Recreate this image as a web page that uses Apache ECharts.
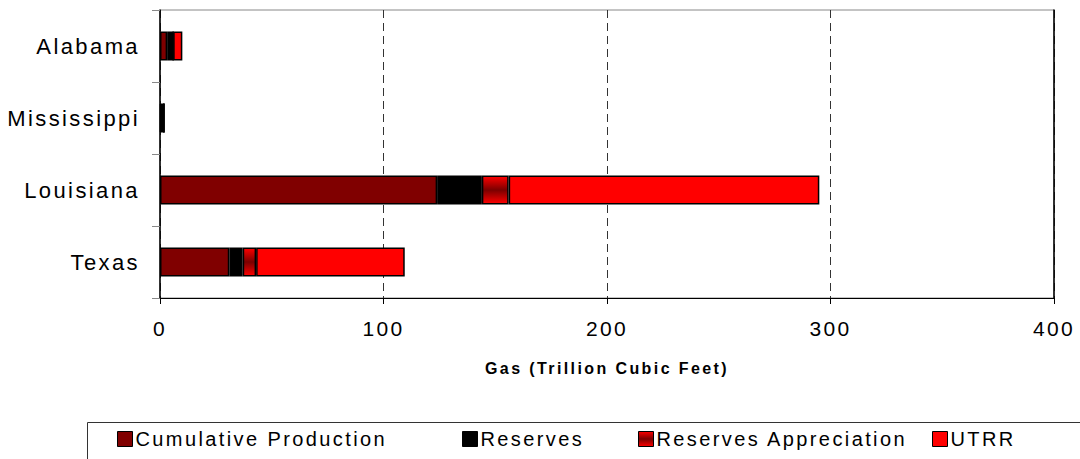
<!DOCTYPE html>
<html>
<head>
<meta charset="utf-8">
<script src="https://cdn.jsdelivr.net/npm/echarts@6/dist/echarts.min.js"></script>
<style>
html, body { margin: 0; padding: 0; background: #fff; }
#gasChart { width: 1080px; height: 459px; }
/* the original uses widely spaced Arial text */
#gasChart text { letter-spacing: 2.4px; }
</style>
</head>
<body>
<div id="gasChart"></div>
<script>
// states, top to bottom
let states = ['Alabama', 'Mississippi', 'Louisiana', 'Texas'];
// trillion cubic feet
let cumulativeProduction = [3.2, 0.4, 124, 31];
let reserves = [2.7, 1.4, 20, 6];
let reservesAppreciation = [0, 0, 12, 6];
let utrr = [4.1, 0, 139, 66.5];
let xTicks = [0, 100, 200, 300, 400];

let myChart = echarts.init(document.getElementById('gasChart'), null, { renderer: 'svg' });

let fontFamily = 'Arial, "Liberation Sans", sans-serif';
let apprGradient = new echarts.graphic.LinearGradient(0, 0, 0, 1, [
    { offset: 0, color: '#ff0000' },
    { offset: 0.5, color: '#7a0000' },
    { offset: 1, color: '#ff0000' }
]);

function barSeries(name, data, color) {
    return {
        name: name,
        type: 'bar',
        stack: 'gas',
        barWidth: 29,
        data: data,
        itemStyle: { color: color, borderColor: '#000', borderWidth: 1.5 },
        emphasis: { disabled: true }
    };
}

function legendAt(name, left) {
    return {
        data: [name],
        left: left,
        top: 429,
        padding: 0,
        itemWidth: 15,
        itemHeight: 15,
        itemGap: 5,
        icon: 'rect',
        itemStyle: { borderColor: '#000', borderWidth: 1 },
        textStyle: { fontFamily: fontFamily, fontSize: 20, color: '#000', padding: [0, 0, 0, -2] }
    };
}

myChart.setOption({
    backgroundColor: '#fff',
    animation: false,
    grid: {
        left: 160,
        right: 26,
        top: 10,
        bottom: 161,
        show: true,
        borderColor: '#888',
        borderWidth: 1
    },
    legend: [
        legendAt('Cumulative Production', 117),
        legendAt('Reserves', 462),
        legendAt('Reserves Appreciation', 638),
        legendAt('UTRR', 932)
    ],
    graphic: [{
        type: 'rect',
        left: 85,
        top: 420,
        shape: { width: 1010, height: 60 },
        style: { fill: 'none', stroke: '#333', lineWidth: 1 },
        silent: true
    }],
    xAxis: {
        type: 'value',
        min: xTicks[0],
        max: xTicks[xTicks.length - 1],
        interval: 100,
        name: 'Gas (Trillion Cubic Feet)',
        nameLocation: 'middle',
        nameGap: 62,
        nameTextStyle: { fontFamily: fontFamily, fontSize: 16, fontWeight: 'bold', color: '#000' },
        axisLine: { show: true, lineStyle: { color: '#000', width: 1 } },
        axisTick: { show: true, length: 6, lineStyle: { color: '#000' } },
        axisLabel: { fontFamily: fontFamily, fontSize: 21, color: '#000', margin: 20 },
        splitLine: { show: true, lineStyle: { color: '#333', type: [8, 5], width: 1 } }
    },
    yAxis: [{
        type: 'category',
        data: states,
        inverse: true,
        axisLine: { show: true, lineStyle: { color: '#000', width: 1.5 } },
        axisTick: { show: true, length: 8, lineStyle: { color: '#888' } },
        axisLabel: { fontFamily: fontFamily, fontSize: 22, color: '#000', margin: 20 }
    }, {
        type: 'category',
        data: states,
        inverse: true,
        position: 'right',
        axisLine: { show: true, lineStyle: { color: '#000', width: 1.5 } },
        axisTick: { show: false },
        axisLabel: { show: false }
    }],
    series: [
        barSeries('Cumulative Production', cumulativeProduction, '#800000'),
        barSeries('Reserves', reserves, '#000000'),
        barSeries('Reserves Appreciation', reservesAppreciation, apprGradient),
        barSeries('UTRR', utrr, '#ff0000')
    ]
});

window.addEventListener('resize', function () {
    myChart.resize();
});
</script>
</body>
</html>
